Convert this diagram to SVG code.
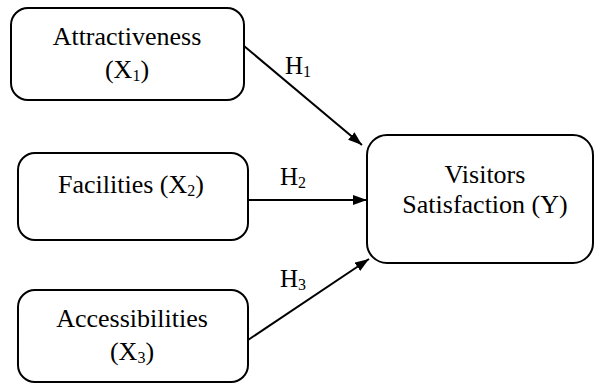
<svg xmlns="http://www.w3.org/2000/svg" width="595" height="384" viewBox="0 0 595 384">
<style>
.box{fill:#fff;stroke:#000;stroke-width:2}
.t{font-family:"Liberation Serif","Times New Roman",serif;font-size:26px;fill:#000;text-anchor:middle}
.h{font-family:"Liberation Serif","Times New Roman",serif;font-size:25px;fill:#000}
.sub{font-size:16px}
.c{stroke:#000;stroke-width:2;fill:none}
</style>
<defs>
<marker id="ah" viewBox="0 0 14 10" refX="14" refY="5" markerWidth="14" markerHeight="10" markerUnits="userSpaceOnUse" orient="auto">
<path d="M0,0 L14,5 L0,10 Z" fill="#000"/>
</marker>
</defs>
<rect width="595" height="384" fill="#fff"/>
<g id="connectors">
<line class="c" x1="244" y1="46" x2="362" y2="145" marker-end="url(#ah)"/>
<line class="c" x1="248" y1="200" x2="367" y2="200" marker-end="url(#ah)"/>
<line class="c" x1="248" y1="340" x2="369" y2="259" marker-end="url(#ah)"/>
<text class="h" x="285" y="74">H<tspan class="sub" dy="3">1</tspan></text>
<text class="h" x="280" y="185">H<tspan class="sub" dy="3">2</tspan></text>
<text class="h" x="280" y="287">H<tspan class="sub" dy="3">3</tspan></text>
</g>
<g id="attractiveness">
<rect class="box" x="11" y="8" width="233" height="92" rx="17"/>
<text class="t" x="127" y="45">Attractiveness</text>
<text class="t" x="127" y="78">(X<tspan class="sub" dy="3">1</tspan><tspan dy="-3">)</tspan></text>
</g>
<g id="facilities">
<rect class="box" x="18" y="153" width="230" height="87" rx="17"/>
<text class="t" x="131" y="193">Facilities (X<tspan class="sub" dy="3">2</tspan><tspan dy="-3">)</tspan></text>
</g>
<g id="accessibilities">
<rect class="box" x="18" y="290" width="230" height="92" rx="17"/>
<text class="t" x="132" y="327">Accessibilities</text>
<text class="t" x="132" y="360">(X<tspan class="sub" dy="3">3</tspan><tspan dy="-3">)</tspan></text>
</g>
<g id="satisfaction">
<rect class="box" x="367" y="135" width="226" height="128" rx="20"/>
<text class="t" x="485" y="183">Visitors</text>
<text class="t" x="485" y="213">Satisfaction (Y)</text>
</g>
</svg>
